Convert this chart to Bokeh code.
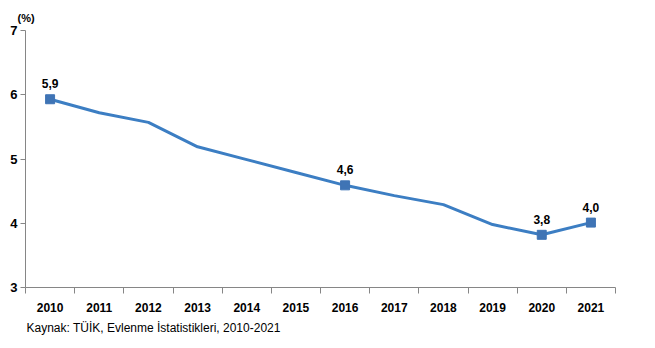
from bokeh.plotting import figure
from bokeh.models import ColumnDataSource, FixedTicker, Title, Range1d
from bokeh.core.properties import value
from bokeh.embed import file_html
from bokeh.resources import INLINE

years = [2010, 2011, 2012, 2013, 2014, 2015, 2016, 2017, 2018, 2019, 2020, 2021]
values = [5.93, 5.72, 5.57, 5.19, 4.99, 4.79, 4.59, 4.43, 4.29, 3.98, 3.82, 4.01]
label_years = [2010, 2016, 2020, 2021]
label_values = [5.93, 4.59, 3.82, 4.01]
label_texts = ["5,9", "4,6", "3,8", "4,0"]
y_ticks = [3, 4, 5, 6, 7]

FONT = "Liberation Sans"

p = figure(width=655, height=348, output_backend="svg", toolbar_location=None,
           x_range=Range1d(2009.5, 2021.5), y_range=Range1d(3, 7),
           min_border_left=25, min_border_right=40, min_border_top=30, min_border_bottom=61)
p.outline_line_color = None
p.xgrid.visible = False
p.ygrid.visible = False
p.background_fill_color = "white"
p.border_fill_color = "white"

line_src = ColumnDataSource(dict(x=years, y=values))
p.line("x", "y", source=line_src, line_color="#3c7ec3", line_width=3)

lab_src = ColumnDataSource(dict(x=label_years, y=label_values, t=label_texts))
p.scatter("x", "y", source=lab_src, marker="square", size=9, fill_color="#3f74b5",
          line_color="#3f74b5")
p.text("x", "y", text="t", source=lab_src, text_font=value(FONT), text_font_style="bold",
       text_font_size="12px", text_align="center", text_baseline="bottom", y_offset=-11,
       text_color="black")

# x axis
xa = p.xaxis[0]
xa.ticker = FixedTicker(ticks=years, minor_ticks=[y + 0.5 for y in [2009] + years])
xa.major_tick_line_color = None
xa.major_tick_out = 0
xa.minor_tick_in = 0
xa.minor_tick_out = 6
xa.minor_tick_line_color = "#868686"
xa.axis_line_color = "#868686"
xa.major_label_standoff = 9
xa.major_label_text_font = FONT
xa.major_label_text_font_style = "bold"
xa.major_label_text_font_size = "12px"
xa.major_label_text_color = "black"

ya = p.yaxis[0]
ya.ticker = FixedTicker(ticks=y_ticks, minor_ticks=[])
ya.major_tick_in = 0
ya.major_tick_out = 5
ya.major_tick_line_color = "#868686"
ya.axis_line_color = "#868686"
ya.major_label_standoff = 3
ya.major_label_text_font = FONT
ya.major_label_text_font_style = "bold"
ya.major_label_text_font_size = "13px"
ya.major_label_text_color = "black"

p.add_layout(Title(text="(%)", align="left", offset=-8, standoff=13,
                   text_font=FONT, text_font_style="bold", text_font_size="11px",
                   text_color="black"), "above")
p.add_layout(Title(text="Kaynak: TÜİK, Evlenme İstatistikleri, 2010-2021", align="left",
                   offset=1, standoff=8, text_font=FONT, text_font_style="normal",
                   text_font_size="12px", text_color="black"), "below")

open("out.html", "w").write(file_html(p, INLINE))
